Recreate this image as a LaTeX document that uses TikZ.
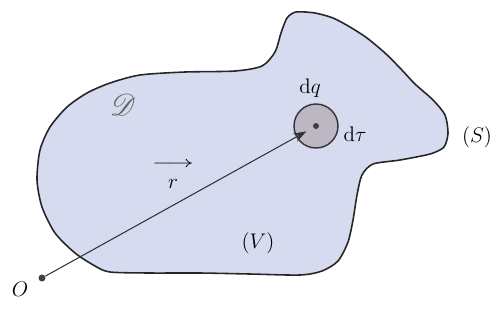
\documentclass[tikz,border=0pt]{standalone}
\usepackage{amsmath,amssymb,amsfonts}
\usepackage{mathrsfs}
\usepackage{tikz}
\usetikzlibrary{calc,arrows.meta,positioning}
\definecolor{volfill}{HTML}{D6DBF0}
\definecolor{elemfill}{HTML}{BCB7C3}

\begin{document}
\begin{tikzpicture}[
  x=0.02cm, y=-0.02cm,
  every node/.style={font=\fontsize{13}{15}\selectfont, inner sep=1pt},
  surface/.style={draw=black!85, line width=0.9pt, fill=volfill},
  elem/.style={circle, draw=black!80, line width=0.8pt, fill=elemfill, minimum size=0.88cm, inner sep=0pt},
  dot/.style={circle, fill=black!75, minimum size=1.4mm, inner sep=0pt},
  vec/.style={-{Stealth[length=2.6mm, width=1.8mm]}, line width=0.6pt, draw=black!80}
]
\useasboundingbox (0,0) rectangle (492,322);
\draw[surface] plot[smooth cycle, tension=0.45] coordinates {
  (296,12) (315,13) (333,18) (350,27) (367,38) (385,53) (400,68) (415,84)
  (433,100) (445,115) (448,133) (444,147) (430,154) (400,160) (373,164)
  (362,175) (357,195) (353,220) (348,242) (338,261) (322,271) (300,275)
  (250,274) (200,273) (150,273) (110,272) (95,266) (75,253) (55,233)
  (42,207) (37,180) (40,150) (50,127) (67,107) (87,93) (110,83) (140,75)
  (185,72) (235,71) (262,66) (275,52) (281,33) (287,18)};
\node[elem] (dtau) at (316,126) {};
\node[dot, minimum size=1.2mm] (dtauc) at (dtau.center) {};
\node[dot] (O) at (42,278) {};
\draw[vec, shorten >=0.22cm] (O) -- (dtau.center);
% labels
\node (labO) at (20,289) {$O$};
\node (labD) at (123,105) {\fontsize{17}{19}\selectfont\textcolor{black!60}{$\mathscr{D}$}};
\node (labr) at (173,174) {$\overset{\raisebox{4pt}{\scalebox{1.6}[1]{$\scriptstyle\longrightarrow$}}}{r}$};
\node (labdq) at (310,88) {$\mathrm{d}q$};
\node (labdt) at (355,134) {$\mathrm{d}\tau$};
\node (labS) at (477,137) {$(S)$};
\node (labV) at (258,243) {$(V)$};
\end{tikzpicture}
\end{document}
